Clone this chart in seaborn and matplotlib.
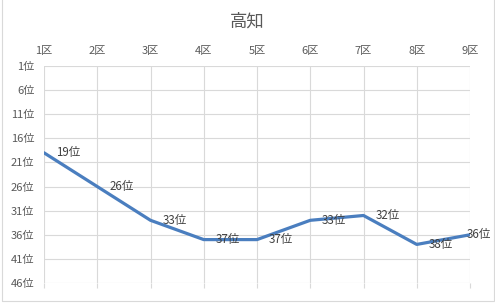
import matplotlib
matplotlib.use("Agg")
import matplotlib.pyplot as plt
import seaborn as sns
import pandas as pd
from matplotlib.patches import Rectangle

districts = ["1区", "2区", "3区", "4区", "5区", "6区", "7区", "8区", "9区"]
ranks = [19, 26, 33, 37, 37, 33, 32, 38, 36]
rank_ticks = [1, 6, 11, 16, 21, 26, 31, 36, 41, 46]
title = "高知"

sns.set_theme(style="white")
plt.rcParams['font.family'] = ['Noto Sans CJK JP', 'DejaVu Sans']

W, H = 495, 303
fig = plt.figure(figsize=(W / 100, H / 100), dpi=100)
ax = fig.add_axes([44 / W, 1 - 283 / H, (470 - 44) / W, (283 - 66) / H])

df = pd.DataFrame({"pos": range(len(districts)), "rank": ranks})
sns.lineplot(data=df, x="pos", y="rank", ax=ax, color="#4A7EBF", linewidth=2.3)

grid_c = "#D9D9D9"
text_c = "#595959"
ax.set_xlim(0, len(districts) - 1)
ax.set_ylim(46, 1)
ax.set_xticks(range(len(districts)))
ax.set_xticklabels(districts)
ax.set_yticks(rank_ticks)
ax.set_yticklabels([f"{r}位" for r in rank_ticks])
ax.set_xlabel("")
ax.set_ylabel("")
ax.grid(True, color=grid_c, linewidth=0.8)
ax.set_axisbelow(True)
for s in ax.spines.values():
    s.set_visible(False)

ax.tick_params(axis='x', bottom=True, top=False, labelbottom=False, labeltop=True,
               direction='out', length=3.5, width=0.8, color=grid_c,
               labelsize=8, labelcolor=text_c, pad=3.5)
ax.tick_params(axis='y', left=False, right=False, length=0, labelsize=8,
               labelcolor=text_c, pad=7)

for i, r in enumerate(ranks):
    if i == len(ranks) - 1:
        off = -2.5
    else:
        off = 8.5
    ax.annotate(f"{r}位", xy=(i, r), xytext=(off, 0), textcoords="offset points",
                ha="left", va="center", fontsize=8.3, color="#404040",
                annotation_clip=False)

fig.text(247 / W, 1 - 22 / H, title, ha="center", va="center", fontsize=12.5, color=text_c)

fig.patches.append(Rectangle((1.5 / W, 2.5 / H), 492 / W, 1.2, transform=fig.transFigure,
                             fill=False, edgecolor=grid_c, linewidth=0.8))

fig.savefig("out.png", dpi=100)
